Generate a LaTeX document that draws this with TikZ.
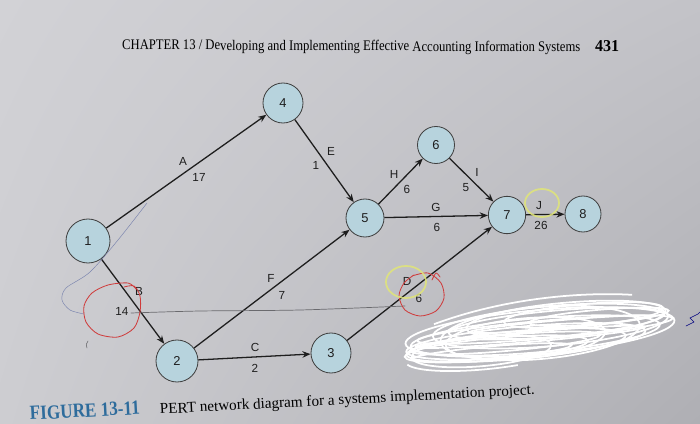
\documentclass[tikz,border=0pt]{standalone}
\usepackage{fontspec}
\setmainfont{Liberation Serif}
\setsansfont{Liberation Sans}
\usetikzlibrary{arrows.meta,shadings}
\definecolor{bgUL}{HTML}{D2D2D6}
\definecolor{bgUR}{HTML}{C3C3C8}
\definecolor{bgLL}{HTML}{CDCDD1}
\definecolor{bgLR}{HTML}{AFAFB4}
\definecolor{nodefill}{HTML}{B7D3DD}
\definecolor{ink}{HTML}{1E1E1E}
\definecolor{penred}{HTML}{CF3B3B}
\definecolor{penyellow}{HTML}{E0E578}
\definecolor{pengrey}{HTML}{6A6A6E}
\definecolor{penblue}{HTML}{7A84AE}
\definecolor{figblue}{HTML}{2E6C9C}
\begin{document}
\begin{tikzpicture}[x=0.03cm,y=-0.03cm,
  pnode/.style={circle,draw=ink!85,line width=0.7pt,fill=nodefill,minimum size=1.17cm,inner sep=0pt,font=\sffamily\fontsize{11}{13}\selectfont,text=ink},
  edge/.style={draw=ink,line width=1.1pt,-{Stealth[length=7pt,width=5.5pt]}},
  elab/.style={font=\sffamily\fontsize{10}{12}\selectfont,text=ink,inner sep=0pt},
  hand/.style={line width=0.7pt,line cap=round,line join=round},
  scrib/.style={draw=white,line width=1.5pt}]
\useasboundingbox (0,0) rectangle (700,424);
\shade[upper left=bgUL,upper right=bgUR,lower left=bgLL,lower right=bgLR] (0,0) rectangle (700,424);

% header
\node[anchor=base west,inner sep=0pt,rotate=-0.3] (hdr) at (122,49.5) {\resizebox{13.74cm}{0.31cm}{CHAPTER 13 / Developing and Implementing Effective Accounting Information Systems}};
\node[anchor=base west,inner sep=0pt,rotate=-0.3] (pg) at (595,51) {\resizebox{0.72cm}{0.33cm}{\bfseries 431}};

% nodes
\node[pnode,minimum size=1.32cm] (n1) at (88,241) {1};
\node[pnode,minimum size=1.26cm] (n2) at (177,361) {2};
\node[pnode,minimum size=1.2cm] (n3) at (331,353) {3};
\node[pnode,minimum size=1.2cm] (n4) at (283,103) {4};
\node[pnode,minimum size=1.14cm] (n5) at (365,218) {5};
\node[pnode,minimum size=1.11cm] (n6) at (436,145) {6};
\node[pnode,minimum size=1.12cm] (n7) at (507,215) {7};
\node[pnode,minimum size=1.08cm] (n8) at (583,214) {8};

% edges
\draw[edge] (n1) -- (n4);
\draw[edge] (n1) -- (n2);
\draw[edge] (n2) -- (n3);
\draw[edge] (n3) -- (n7);
\draw[edge] (n4) -- (n5);
\draw[edge] (n2) -- (n5);
\draw[edge] (n5) -- (n7);
\draw[edge] (n5) -- (n6);
\draw[edge] (n6) -- (n7);
\draw[edge] (n7) -- (n8);

% edge labels
\node[elab] (lA) at (183,161) {A};
\node[elab] (tA) at (199,177) {17};
\node[elab] (lE) at (331,151) {E};
\node[elab] (tE) at (316,165) {1};
\node[elab] (lH) at (394,174) {H};
\node[elab] (tH) at (407,189) {6};
\node[elab] (lI) at (477,172) {I};
\node[elab] (tI) at (466,188) {5};
\node[elab] (lG) at (436,207) {G};
\node[elab] (tG) at (437,227) {6};
\node[elab] (lJ) at (539,206) {J};
\node[elab] (tJ) at (541,225) {26};
\node[elab] (lB) at (139,291) {B};
\node[elab] (tB) at (122,311) {14};
\node[elab] (lF) at (271,278) {F};
\node[elab] (tF) at (282,295) {7};
\node[elab] (lD) at (407,281) {D};
\node[elab] (tD) at (419,298) {6};
\node[elab] (lC) at (255,347) {C};
\node[elab] (tC) at (255,368) {2};

% handwritten marks
\draw[hand,penblue,line width=0.4pt] plot[smooth] coordinates {(147,203) (118,240) (90,272) (66,288) (62,300) (70,310) (84,314)};
\draw[hand,pengrey,line width=0.6pt] plot[smooth] coordinates {(131,313) (200,311) (300,310) (405,306)};
\draw[hand,penred] plot[smooth] coordinates {(124,287) (134,286) (140,296) (140,312) (134,328) (118,337) (98,334) (86,322) (84,306) (92,293) (108,285) (128,283) (136,289)};
\draw[hand,penred] plot[smooth] coordinates {(412,276) (428,273) (441,283) (444,298) (436,311) (420,316) (405,310) (399,296) (404,283) (414,275)};
\draw[hand,penred] plot[smooth] coordinates {(432,280) (436,273) (440,277)};
\draw[hand,penyellow,line width=1.5pt,opacity=0.85] (406,282) ellipse [x radius=20, y radius=16];
\draw[hand,penyellow,line width=1.5pt,opacity=0.85] (542,203) ellipse [x radius=17, y radius=14];
\draw[hand,pengrey,line width=0.5pt] (88,341) .. controls (86,344) .. (87,348);
\draw[hand,draw=blue!50!black,line width=0.5pt] (686,326) -- (694,322) -- (690,318) -- (698,314) -- (700,312);

% white scribble
\begin{scope}[rotate around={5:(540,332)}]
\draw[scrib] (540,332) ellipse [x radius=135, y radius=22];
\draw[scrib] (535,335) ellipse [x radius=125, y radius=17];
\draw[scrib] (551,327) ellipse [x radius=118, y radius=20];
\draw[scrib] (525,340) ellipse [x radius=120, y radius=15];
\draw[scrib] (557,325) ellipse [x radius=108, y radius=13];
\draw[scrib] (540,333) ellipse [x radius=100, y radius=26];
\draw[scrib] (515,343) ellipse [x radius=110, y radius=14];
\draw[scrib] (567,322) ellipse [x radius=100, y radius=17];
\draw[scrib] (495,345) ellipse [x radius=92, y radius=11];
\draw[scrib] (545,330) ellipse [x radius=128, y radius=9];
\draw[scrib] (525,337) ellipse [x radius=80, y radius=20];
\draw[scrib] (585,319) ellipse [x radius=80, y radius=11];
\draw[scrib] (505,340) ellipse [x radius=95, y radius=8];
\draw[scrib] (530,336) ellipse [x radius=115, y radius=5];
\draw[scrib] (490,348) ellipse [x radius=80, y radius=6];
\draw[scrib] (560,326) ellipse [x radius=90, y radius=4];
\draw[scrib] (480,346) ellipse [x radius=70, y radius=15];
\draw[scrib] (600,322) ellipse [x radius=70, y radius=7];
\draw[scrib] (435,315) .. controls (515,293) and (595,297) .. (635,303);
\draw[scrib] (405,353) .. controls (415,362) and (465,367) .. (515,363);
\end{scope}

% caption
\node[anchor=base west,inner sep=0pt,rotate=3] (fig) at (30,420) {\resizebox{3.3cm}{0.4cm}{\bfseries\color{figblue}FIGURE 13-11}};
\node[anchor=base west,inner sep=0pt,rotate=3] (cap) at (160,414) {\resizebox{11.25cm}{0.32cm}{PERT network diagram for a systems implementation project.}};
\end{tikzpicture}
\end{document}
